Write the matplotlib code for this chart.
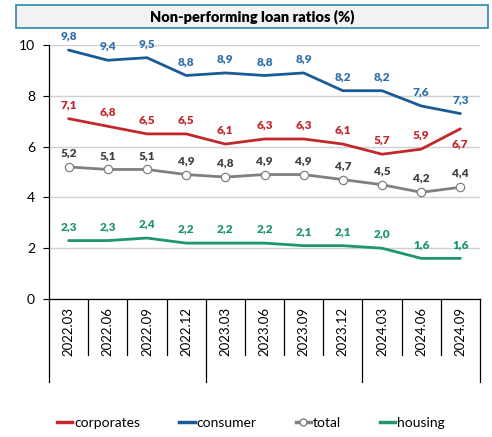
import matplotlib
matplotlib.use("Agg")
import matplotlib.pyplot as plt
from matplotlib.patches import Rectangle
from matplotlib.lines import Line2D

plt.rcParams['font.family'] = ['Lato', 'DejaVu Sans']

periods = ["2022.03", "2022.06", "2022.09", "2022.12", "2023.03", "2023.06",
           "2023.09", "2023.12", "2024.03", "2024.06", "2024.09"]
corporates = [7.1, 6.8, 6.5, 6.5, 6.1, 6.3, 6.3, 6.1, 5.7, 5.9, 6.7]
consumer = [9.8, 9.4, 9.5, 8.8, 8.9, 8.8, 8.9, 8.2, 8.2, 7.6, 7.3]
total = [5.2, 5.1, 5.1, 4.9, 4.8, 4.9, 4.9, 4.7, 4.5, 4.2, 4.4]
housing = [2.3, 2.3, 2.4, 2.2, 2.2, 2.2, 2.1, 2.1, 2.0, 1.6, 1.6]
yticks = [0, 2, 4, 6, 8, 10]

c_corp = "#c0282d"
c_cons = "#1a5a96"
c_cons_lbl = "#2f6fae"
c_tot = "#808080"
c_tot_lbl = "#404040"
c_hous = "#1f9572"

W, H = 492, 437
fig = plt.figure(figsize=(W / 100, H / 100), dpi=100)
ax = fig.add_axes([49 / W, 1 - 299 / H, (480 - 49) / W, (299 - 45) / H])

x = list(range(len(periods)))
ax.plot(x, consumer, color=c_cons, lw=2.0, solid_capstyle='round', zorder=3)
ax.plot(x, corporates, color=c_corp, lw=2.0, solid_capstyle='round', zorder=3)
ax.plot(x, total, color=c_tot, lw=2.0, marker='o', markersize=6,
        markerfacecolor='white', markeredgecolor=c_tot, markeredgewidth=0.9, zorder=4)
ax.plot(x, housing, color=c_hous, lw=2.0, solid_capstyle='round', zorder=3)

def fmt(v):
    return f"{v:.1f}".replace('.', ',')

def labels(vals, color, below_idx=()):
    for i, v in enumerate(vals):
        off = -11 if i in below_idx else 10
        ax.annotate(fmt(v), (i, v), xytext=(0, off), textcoords='offset points',
                    ha='center', va='center', fontsize=8.5, fontweight='heavy',
                    color=color, zorder=5)

labels(consumer, c_cons_lbl)
labels(corporates, c_corp, below_idx=(10,))
labels(total, c_tot_lbl)
labels(housing, c_hous)

ax.set_xlim(-0.5, len(periods) - 0.5)
ax.set_ylim(0, 10)
ax.set_yticks(yticks)
ax.set_yticklabels([str(t) for t in yticks], fontsize=10)
ax.tick_params(axis='y', length=4, width=0.8, pad=6)
ax.yaxis.grid(True, color='#d0d0d0', lw=1.0)
ax.set_axisbelow(True)
for s in ['top', 'right']:
    ax.spines[s].set_visible(False)
ax.spines['left'].set_linewidth(0.9)
ax.spines['bottom'].set_linewidth(0.9)

ax.set_xticks([])
for i, p in enumerate(periods):
    ax.text(i, -0.3, p, rotation=90, ha='center', va='top', fontsize=9.5,
            transform=ax.transData, clip_on=False)
ylow_short = -(355 - 299) / (299 - 45) * 10
ylow_long = -(382 - 299) / (299 - 45) * 10
for b in range(len(periods) + 1):
    xb = b - 0.5
    long = b in (0, 4, 8, 11)
    ax.add_line(Line2D([xb, xb], [0, ylow_long if long else ylow_short],
                       color='black', lw=0.9, clip_on=False))

fig.patches.append(Rectangle((16 / W, 1 - 28 / H), (488 - 16) / W, 23 / H,
                             transform=fig.transFigure, facecolor='#f2f2f2',
                             edgecolor='#2e86ab', lw=1.2, zorder=0))
fig.text(252 / W, 1 - 16.5 / H, "Non-performing loan ratios (%)", ha='center',
         va='center', fontsize=10.5, fontweight='heavy')

handles = [
    Line2D([], [], color=c_corp, lw=2.5),
    Line2D([], [], color=c_cons, lw=2.5),
    Line2D([], [], color=c_tot, lw=2.5, marker='o', markersize=5,
           markerfacecolor='white', markeredgecolor=c_tot),
    Line2D([], [], color=c_hous, lw=2.5),
]
fig.legend(handles, ["corporates", "consumer", "total", "housing"], loc='center',
           bbox_to_anchor=(251 / W, 1 - 423 / H), ncol=4, frameon=False,
           fontsize=10, handlelength=1.1, handletextpad=0.15, columnspacing=2.8)

fig.savefig("out.png", dpi=100)
